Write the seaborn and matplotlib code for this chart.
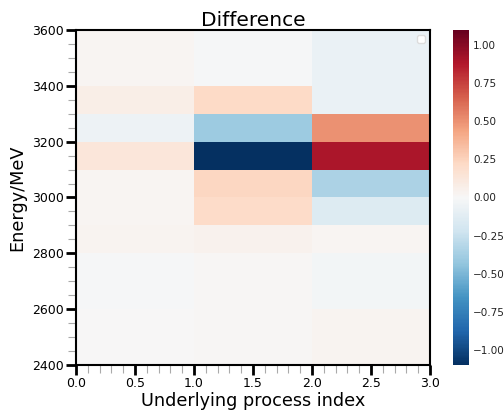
import numpy as np
import pandas as pd
import matplotlib.pyplot as plt
import seaborn as sns
from matplotlib.ticker import MultipleLocator

sns.set_style('white')
plt.rcParams['font.family'] = ['DejaVu Sans']
plt.rcParams['text.color'] = 'black'
plt.rcParams['axes.labelcolor'] = 'black'
plt.rcParams['xtick.color'] = 'black'
plt.rcParams['ytick.color'] = 'black'

# ---- data: difference per energy bin (bottom -> top) for each process ----
energy_edges = [2400, 2500, 2600, 2700, 2800, 2900, 3000, 3100, 3200, 3300, 3400, 3500, 3600]
process_edges = [0, 1, 2, 3]
process_centres = [0.5, 1.5, 2.5]
diff_proc0 = [0.00, 0.00, -0.01, -0.01, 0.03, 0.02, 0.02, 0.13, -0.06, 0.07, 0.02, 0.02]
diff_proc1 = [0.01, 0.01, 0.01, 0.01, 0.05, 0.21, 0.24, -1.10, -0.40, 0.22, -0.01, -0.01]
diff_proc2 = [0.03, 0.03, -0.03, -0.03, 0.02, -0.15, -0.35, 0.90, 0.50, -0.07, -0.07, -0.07]

rows = []
for p, vals in zip(process_centres, [diff_proc0, diff_proc1, diff_proc2]):
    for lo, hi, v in zip(energy_edges[:-1], energy_edges[1:], vals):
        rows.append({'process': p, 'energy': (lo + hi) / 2, 'diff': v})
df = pd.DataFrame(rows)

fig = plt.figure(figsize=(5.04, 4.11), dpi=100)
ax = fig.add_axes([0.151, 0.112, 0.702, 0.815])
cax = fig.add_axes([0.899, 0.112, 0.031, 0.815])

sns.histplot(data=df, x='process', y='energy', weights='diff',
             bins=[process_edges, energy_edges], thresh=None,
             cmap='RdBu_r', vmin=-1.1, vmax=1.1,
             cbar=True, cbar_ax=cax, ax=ax)

ax.set_xlim(0, 3)
ax.set_ylim(2400, 3600)
ax.xaxis.set_major_locator(MultipleLocator(0.5))
ax.xaxis.set_minor_locator(MultipleLocator(0.1))
ax.yaxis.set_major_locator(MultipleLocator(200))
ax.yaxis.set_minor_locator(MultipleLocator(50))
ax.tick_params(which='both', bottom=True, left=True, top=False, right=False)
ax.tick_params(which='major', direction='out', length=7, width=2, color='black',
               labelsize=9, labelcolor='black', pad=2)
ax.tick_params(which='minor', direction='out', length=5.5, width=0.8, color='#aaaaaa')
for s in ax.spines.values():
    s.set_color('black')
    s.set_linewidth(1.5)

ax.set_title('Difference', fontsize=14.5, pad=3, color='black')
ax.set_xlabel('Underlying process index', fontsize=12.7, labelpad=1)
ax.set_ylabel('Energy/MeV', fontsize=12.7, labelpad=4)
ax.legend(loc='upper right', fontsize=7, framealpha=1, edgecolor='#dddddd')

cbar_ticks = [-1.0, -0.75, -0.5, -0.25, 0.0, 0.25, 0.5, 0.75, 1.0]
cax.set_yticks(cbar_ticks)
cax.set_yticklabels(['%.2f' % t if t >= 0 else '\u2212%.2f' % -t for t in cbar_ticks])
cax.tick_params(length=0, labelsize=7.5, pad=3, labelcolor='#222222')
cb = ax.collections[0].colorbar
if cb is not None:
    cb.outline.set_visible(False)

plt.savefig('out.png', dpi=100)
